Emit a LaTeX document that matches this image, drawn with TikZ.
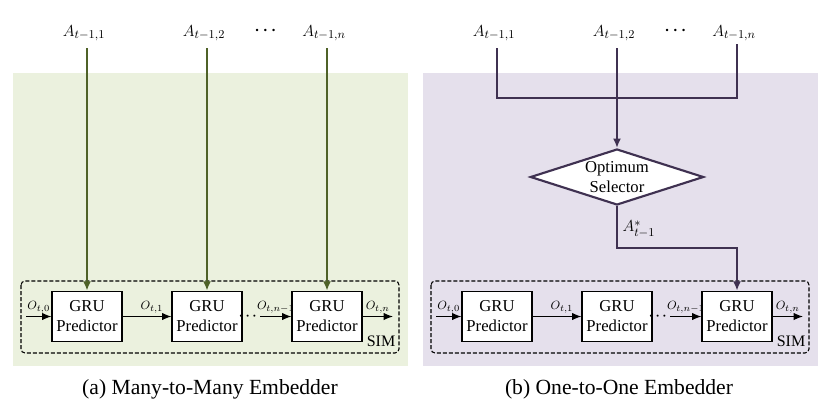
\documentclass[tikz,border=0pt]{standalone}
\usepackage{amssymb}
\usepackage{amsmath}
\usepackage{fontspec}
\setmainfont{Liberation Serif}
\usetikzlibrary{shapes.geometric,arrows.meta}

\definecolor{greenbg}{HTML}{EBF1DE}
\definecolor{greenln}{HTML}{4F6228}
\definecolor{purplebg}{HTML}{E5E0EC}
\definecolor{purpleln}{HTML}{3F3151}

\begin{document}
\begin{tikzpicture}[x=0.75pt,y=-0.75pt,
  gru/.style={draw,fill=white,line width=0.8pt,minimum width=52.5pt,minimum height=38pt,
    inner sep=0pt,align=center,font=\fontsize{12.5}{15}\selectfont},
  alab/.style={font=\fontsize{12.5}{14}\selectfont},
  olab/.style={font=\fontsize{9.5}{11}\selectfont,inner sep=1pt,above=1pt},
  oarrow/.style={line width=0.9pt,-{Latex[length=7pt,width=5.5pt]}},
  simbox/.style={draw,line width=0.8pt,dash pattern=on 3pt off 1.5pt,rounded corners=3pt},
  gline/.style={draw=greenln,line width=1.6pt,-{Latex[length=7pt,width=6pt]}},
  pline/.style={draw=purpleln,line width=1.6pt},
  bdots/.style={font=\fontsize{13}{14}\selectfont\boldmath,inner sep=1pt},
  sdots/.style={font=\fontsize{10}{12}\selectfont\boldmath,inner sep=0.5pt},
  captext/.style={font=\fontsize{16.2}{19}\selectfont}]
\useasboundingbox (0,0) rectangle (830,408);

% backgrounds
\fill[greenbg] (13,73) rectangle (408,366);
\fill[purplebg] (423,73) rectangle (818,366);

%%%% (a) many-to-many
\draw[simbox] (21,281) rectangle (399,353);
\node[font=\fontsize{12}{14}\selectfont] (sima) at (381,341) {SIM};
\foreach \i/\x in {1/87,2/207,3/327} {
\node[gru] (g\i) at (\x,316.5) {GRU\\Predictor};
}
\node[alab] (a1) at (84,33) {$A_{t-1,1}$};
\node[alab] (a2) at (204,33) {$A_{t-1,2}$};
\node[alab] (a3) at (324,33) {$A_{t-1,n}$};
\node[bdots] (adots) at (267,31) {$\cdots$};
\foreach \i in {1,2,3} {
\draw[gline,shorten <=2pt] (g\i.north |- a\i.south) -- (g\i.north);
}

\coordinate (ina) at (26,316.5);
\coordinate (outa) at (393,316.5);
\node[sdots] (da) at (249,316.5) {$\cdots$};
\draw[oarrow] (ina) -- node[olab] {$O_{t,0}$} (g1.west);
\draw[oarrow] (g1.east) -- node[olab,pos=0.6] {$O_{t,1}$} (g2.west);
\draw[oarrow] (da.east) -- node[olab] {$O_{t,n-1}$} (g3.west);
\draw[oarrow] (g3.east) -- node[olab] {$O_{t,n}$} (outa);

\node[captext] (capa) at (210,389) {(a) Many-to-Many Embedder};

%%%% (b) one-to-one
\draw[simbox] (431,281) rectangle (809,353);
\node[font=\fontsize{12}{14}\selectfont] (simb) at (791,341) {SIM};
\foreach \i/\x in {1/497,2/617,3/737} {
\node[gru] (h\i) at (\x,316.5) {GRU\\Predictor};
}
\node[alab] (b1) at (494,33) {$A_{t-1,1}$};
\node[alab] (b2) at (614,33) {$A_{t-1,2}$};
\node[alab] (b3) at (734,33) {$A_{t-1,n}$};
\node[bdots] (bdots) at (677,31) {$\cdots$};

\node[diamond,draw=purpleln,fill=white,line width=1.6pt,aspect=3.1,inner sep=0pt,
  minimum width=130pt,minimum height=42pt,align=center,
  font=\fontsize{12.5}{15}\selectfont] (sel) at (617,177) {Optimum\\Selector};

\coordinate (j1) at (497,98);
\coordinate (j3) at (737,98);
\draw[pline,shorten <=2pt] (b1.south -| j1) -- (j1) -- (j3) -- ([yshift=1.5pt]b3.south -| j3);
\draw[pline,shorten <=2pt,-{Latex[length=7pt,width=6pt]}] (b2.south -| sel.north) -- (sel.north);

\coordinate (k1) at (617,248);
\coordinate (k2) at (737,248);
\draw[pline,-{Latex[length=7pt,width=6pt]}] (sel.south) -- node[right,alab,pos=0.55] {$A^*_{t-1}$} (k1) -- (k2) -- (h3.north);

\coordinate (inb) at (436,316.5);
\coordinate (outb) at (803,316.5);
\node[sdots] (db) at (659,316.5) {$\cdots$};
\draw[oarrow] (inb) -- node[olab] {$O_{t,0}$} (h1.west);
\draw[oarrow] (h1.east) -- node[olab,pos=0.6] {$O_{t,1}$} (h2.west);
\draw[oarrow] (db.east) -- node[olab] {$O_{t,n-1}$} (h3.west);
\draw[oarrow] (h3.east) -- node[olab] {$O_{t,n}$} (outb);

\node[captext] (capb) at (619,389) {(b) One-to-One Embedder};
\end{tikzpicture}
\end{document}
